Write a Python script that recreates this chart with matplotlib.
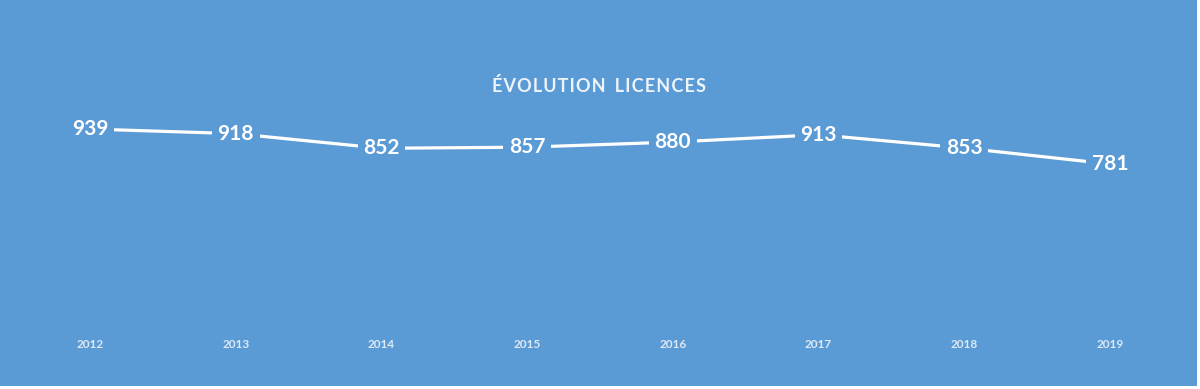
import matplotlib
matplotlib.use("Agg")
from matplotlib import pyplot as plt
from matplotlib.patches import Rectangle

years = [2012, 2013, 2014, 2015, 2016, 2017, 2018, 2019]
licences = [939, 918, 852, 857, 880, 913, 853, 781]
title = "ÉVOLUTION LICENCES"

bg = "#5b9bd5"
W, H = 1200, 389

fig = plt.figure(figsize=(W / 100, H / 100), dpi=100, facecolor="white")
# blue panel, white strip on the right and bottom edges
fig.patches.append(Rectangle((0, 3 / H), 1197 / W, 386 / H, transform=fig.transFigure,
                             facecolor=bg, edgecolor="none", zorder=-5))

# axes placed so 2012 sits at x=90px and 2019 at x=1110px, 0..1000 on y
ax = fig.add_axes([0, 52 / H, 1, 221.5 / H], zorder=2)
ax.set_facecolor("none")
step = (1110 - 90) / 7
ax.set_xlim(2012 - 90 / step, 2019 + 90 / step)
ax.set_ylim(0, 1000)

ax.plot(years, licences, color="white", lw=2.3, solid_capstyle="butt", zorder=2)
for x, v in zip(years, licences):
    ax.text(x, v, str(v), ha="center", va="center", color="white", fontsize=15,
            fontweight="bold", family="Lato", zorder=3,
            bbox=dict(facecolor=bg, edgecolor="none", pad=4))

ax.set_xticks(years)
ax.set_xticklabels([str(y) for y in years], color="#dde9f6", fontsize=8.5,
                   family="Lato", fontweight="bold")
ax.tick_params(axis="x", length=0, pad=1.5)
ax.set_yticks([])
for s in ax.spines.values():
    s.set_visible(False)

# tracked-out title, like the original
spaced = "\u200a".join(title).replace("\u200a \u200a", "\u2002")
fig.text(599 / W, 1 - 86 / H, spaced, ha="center", va="center", color="#eef4fb",
         fontsize=13, fontweight="bold", family=["Lato", "DejaVu Sans"])

fig.savefig("out.png", dpi=100, facecolor="white")
